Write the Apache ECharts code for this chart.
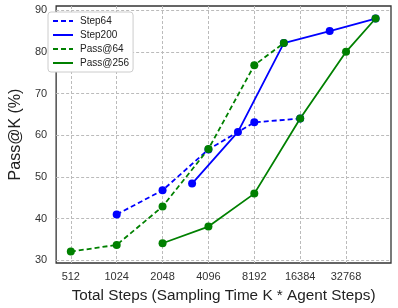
<!DOCTYPE html>
<html>
<head>
<meta charset="utf-8">
<script src="https://cdn.jsdelivr.net/npm/echarts@6/dist/echarts.min.js"></script>
<style>html,body{margin:0;padding:0;background:#fff;}#c{width:398px;height:308px;}</style>
</head>
<body>
<div id="c"></div>
<script>
const xTicks = [512, 1024, 2048, 4096, 8192, 16384, 32768];
const yTicks = [30, 40, 50, 60, 70, 80, 90];

const step64X = [1024, 2048, 4096, 8192, 16384];
const step64Y = [41.0, 46.8, 56.6, 63.1, 64.0];

const step200X = [3200, 6400, 12800, 25600, 51200];
const step200Y = [48.4, 60.8, 82.1, 85.0, 88.0];

const pass64X = [512, 1024, 2048, 4096, 8192, 12800];
const pass64Y = [32.1, 33.7, 42.9, 56.7, 76.8, 82.1];

const pass256X = [2048, 4096, 8192, 16384, 32768, 51200];
const pass256Y = [34.1, 38.1, 46.0, 64.0, 80.0, 88.0];

const FONT = '"Liberation Sans", Arial, sans-serif';
function pts(xs, ys) { return xs.map((x, i) => [Math.log2(x), ys[i]]); }
function mk(name, xs, ys, color, dashed) {
  return {
    name, type: 'line', data: pts(xs, ys),
    symbol: 'circle', symbolSize: 8,
    lineStyle: { color, width: 1.8, type: dashed ? [5, 3] : 'solid' },
    itemStyle: { color },
    emphasis: { disabled: true },
    animation: false
  };
}

const chart = echarts.init(document.getElementById('c'), null, { renderer: 'canvas' });
chart.setOption({
  animation: false,
  textStyle: { fontFamily: FONT },
  grid: { left: 43, right: 7, top: 6, bottom: 42, show: true, borderColor: '#333', borderWidth: 1.3, backgroundColor: 'transparent' },
  legend: {
    orient: 'vertical', left: 48, top: 12,
    itemWidth: 20, itemHeight: 10, itemGap: 4,
    padding: [4, 4, 4, 4],
    backgroundColor: '#fff', borderColor: '#ccc', borderWidth: 1, borderRadius: 3,
    textStyle: { fontFamily: FONT, fontSize: 10, color: '#222', padding: [0, 0, 0, 2] },
    itemStyle: { opacity: 0 },
    data: ['Step64', 'Step200', 'Pass@64', 'Pass@256']
  },
  xAxis: {
    type: 'value', min: 8.68, max: 15.98,
    name: 'Total Steps (Sampling Time K * Agent Steps)',
    nameLocation: 'middle', nameGap: 25,
    nameTextStyle: { fontFamily: FONT, fontSize: 15.3, color: '#222' },
    axisLine: { show: false },
    axisTick: { show: false, customValues: xTicks.map(v => Math.log2(v)) },
    axisLabel: { customValues: xTicks.map(v => Math.log2(v)), formatter: v => String(Math.round(Math.pow(2, v))), fontFamily: FONT, fontSize: 11, color: '#333', margin: 8 },
    splitLine: { show: true, lineStyle: { color: '#bbb', type: [3, 2], width: 1 } }
  },
  yAxis: {
    type: 'value', min: 29.36, max: 91.0,
    name: 'Pass@K (%)',
    nameLocation: 'middle', nameGap: 25,
    nameTextStyle: { fontFamily: FONT, fontSize: 16, color: '#222' },
    axisLine: { show: false },
    axisTick: { show: false, customValues: yTicks },
    axisLabel: { customValues: yTicks, fontFamily: FONT, fontSize: 11, color: '#333', margin: 9 },
    splitLine: { show: true, lineStyle: { color: '#bbb', type: [3, 2], width: 1 } }
  },
  series: [
    mk('Step64', step64X, step64Y, '#0000ff', true),
    mk('Step200', step200X, step200Y, '#0000ff', false),
    mk('Pass@64', pass64X, pass64Y, '#008000', true),
    mk('Pass@256', pass256X, pass256Y, '#008000', false)
  ]
});
</script>
</body>
</html>
